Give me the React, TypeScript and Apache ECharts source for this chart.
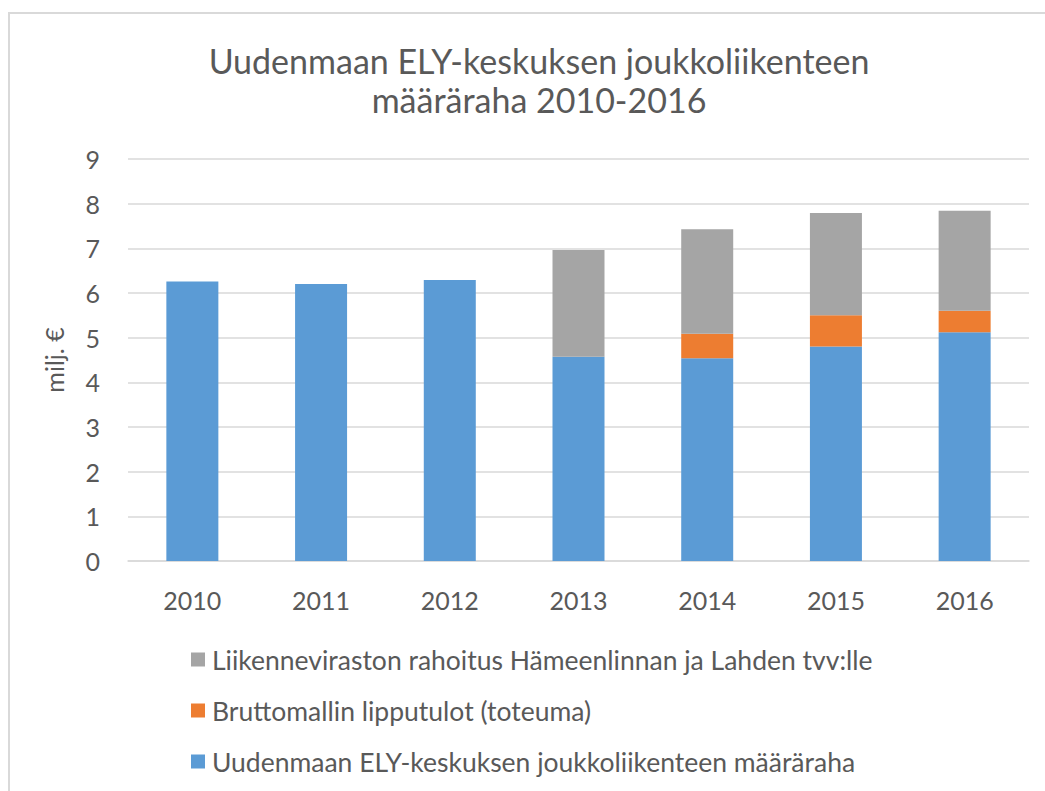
import React, { useEffect, useRef } from "react";
import * as echarts from "echarts";

const years = ["2010", "2011", "2012", "2013", "2014", "2015", "2016"];
const elyValues = [6.26, 6.2, 6.29, 4.57, 4.54, 4.8, 5.12];
const bruttoValues = [0, 0, 0, 0, 0.55, 0.7, 0.48];
const liikennevirastoValues = [0, 0, 0, 2.39, 2.34, 2.29, 2.24];
const yTicks = { min: 0, max: 9, interval: 1 };

const nameEly = "Uudenmaan ELY-keskuksen joukkoliikenteen määräraha";
const nameBrutto = "Bruttomallin lipputulot (toteuma)";
const nameLv = "Liikenneviraston rahoitus Hämeenlinnan ja Lahden tvv:lle";

const FONT = "Lato";
const TEXT = "#595959";

export default function App() {
  const ref = useRef<HTMLDivElement>(null);
  useEffect(() => {
    if (!ref.current) return;
    const chart = echarts.init(ref.current, null, { renderer: "svg" });
    chart.setOption({
      animation: false,
      backgroundColor: "#ffffff",
      title: {
        text: "Uudenmaan ELY-keskuksen joukkoliikenteen\nmääräraha 2010-2016",
        left: 534,
        textAlign: "center",
        top: 36,
        textStyle: {
          fontFamily: FONT,
          fontSize: 34,
          fontWeight: "normal",
          color: TEXT,
          lineHeight: 39,
        },
      },
      graphic: [
        {
          type: "rect",
          shape: { x: 9, y: 13, width: 1200, height: 900 },
          style: { fill: "none", stroke: "#d9d9d9", lineWidth: 2 },
          silent: true,
        },
      ],
      legend: {
        orient: "vertical",
        left: 186,
        top: 641,
        itemWidth: 14,
        itemHeight: 14,
        itemGap: 24,
        icon: "rect",
        data: [nameLv, nameBrutto, nameEly],
        textStyle: {
          fontFamily: FONT,
          fontSize: 26.5,
          color: TEXT,
          lineHeight: 27,
          padding: [0, 0, 0, 2],
        },
      },
      grid: { left: 128, right: 16, top: 159, bottom: 230, containLabel: false },
      xAxis: {
        type: "category",
        data: years,
        axisLine: { lineStyle: { color: "#d9d9d9", width: 1.5 } },
        axisTick: { show: false },
        axisLabel: { fontFamily: FONT, fontSize: 25, color: TEXT, margin: 26 },
      },
      yAxis: {
        type: "value",
        min: yTicks.min,
        max: yTicks.max,
        interval: yTicks.interval,
        name: "milj. €",
        nameLocation: "middle",
        nameGap: 62,
        nameRotate: 90,
        nameTextStyle: { fontFamily: FONT, fontSize: 25, color: TEXT },
        axisLine: { show: false },
        axisTick: { show: false },
        splitLine: { lineStyle: { color: "#d9d9d9", width: 1.5 } },
        axisLabel: { fontFamily: FONT, fontSize: 25, color: TEXT, margin: 28 },
      },
      series: [
        {
          name: nameEly,
          type: "bar",
          stack: "total",
          data: elyValues,
          barWidth: 52,
          itemStyle: { color: "#5B9BD5" },
        },
        {
          name: nameBrutto,
          type: "bar",
          stack: "total",
          data: bruttoValues,
          barWidth: 52,
          itemStyle: { color: "#ED7D31" },
        },
        {
          name: nameLv,
          type: "bar",
          stack: "total",
          data: liikennevirastoValues,
          barWidth: 52,
          itemStyle: { color: "#A5A5A5" },
        },
      ],
    });
    return () => chart.dispose();
  }, []);
  return (
    <div
      ref={ref}
      style={{ position: "fixed", left: 0, top: 0, width: 1045, height: 791 }}
    />
  );
}
